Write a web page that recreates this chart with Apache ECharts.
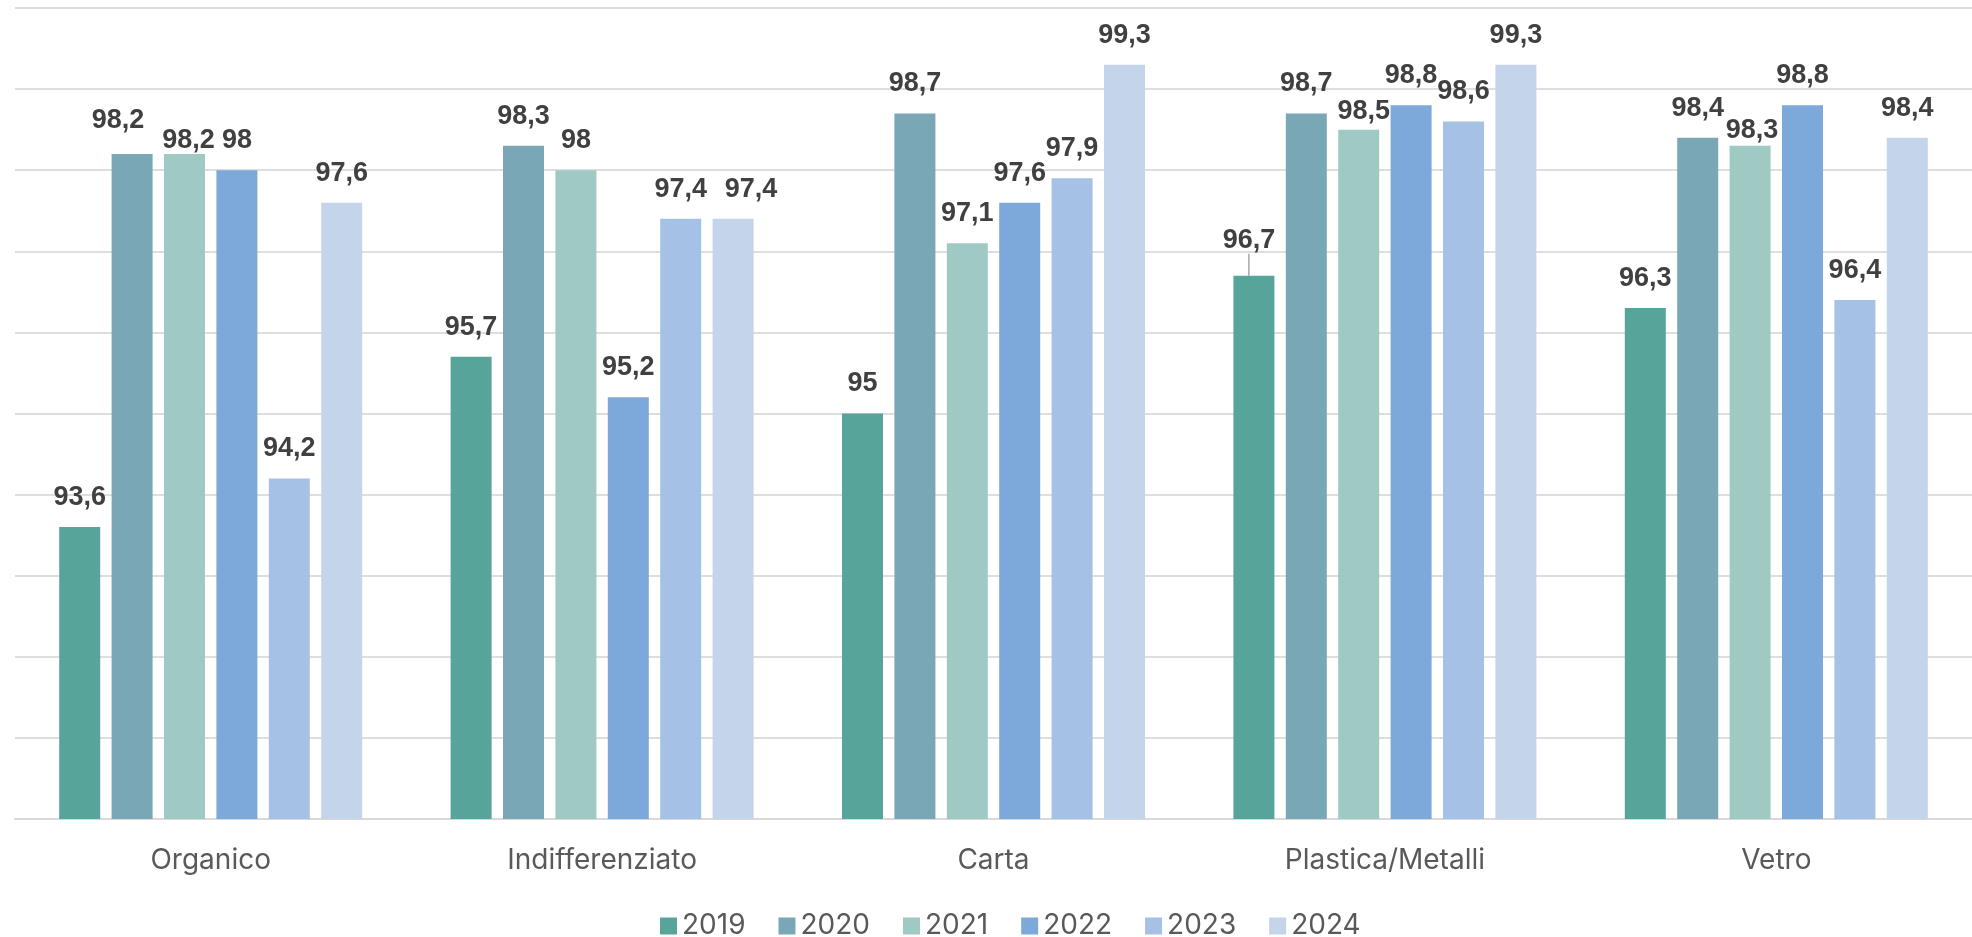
<!DOCTYPE html>
<html>
<head>
<meta charset="utf-8">
<script src="https://cdn.jsdelivr.net/npm/echarts@6/dist/echarts.min.js"></script>
<style>
  html, body { margin: 0; padding: 0; background: #fff; }
  #chart { width: 1972px; height: 937px; }
</style>
</head>
<body>
<div id="chart"></div>
<script>
// Waste categories and yearly percentages
const categories = ['Organico', 'Indifferenziato', 'Carta', 'Plastica/Metalli', 'Vetro'];
const years = ['2019', '2020', '2021', '2022', '2023', '2024'];

const v2019 = [93.6, 95.7, 95.0, 96.7, 96.3];
const v2020 = [98.2, 98.3, 98.7, 98.7, 98.4];
const v2021 = [98.2, 98.0, 97.1, 98.5, 98.3];
const v2022 = [98.0, 95.2, 97.6, 98.8, 98.8];
const v2023 = [94.2, 97.4, 97.9, 98.6, 96.4];
const v2024 = [97.6, 97.4, 99.3, 99.3, 98.4];

const seriesValues = [v2019, v2020, v2021, v2022, v2023, v2024];
const colors = ['#56A49A', '#79A7B5', '#9ECAC3', '#7CA9D9', '#A5C1E5', '#C4D5EB'];

// Labels nudged apart where neighbouring values collide: key = "series-index"
const labelNudge = {
  '1-0': { dx: -14, dy: -4 },
  '2-0': { dx: 4, dy: 16 },
  '5-1': { dx: 18, dy: 0 },
  '2-3': { dx: 5, dy: 11 },
  '0-3': { dx: -5, dy: -6, line: true },
  '2-4': { dx: 2, dy: 14 }
};

const fmt = v => String(v).replace('.', ',');

const series = seriesValues.map((vals, si) => ({
  name: years[si],
  type: 'bar',
  barWidth: 41,
  barGap: '27.8%',
  itemStyle: { color: colors[si] },
  label: {
    show: true,
    position: 'top',
    distance: 16,
    color: '#404040',
    fontFamily: '"Liberation Sans", Arial, sans-serif',
    fontWeight: 'bold',
    fontSize: 27,
    formatter: p => fmt(p.value)
  },
  labelLine: { show: false, lineStyle: { color: '#A6A6A6', width: 1.5 } },
  data: vals.map((v, di) => {
    const n = labelNudge[si + '-' + di];
    if (n && n.line) return { value: v, labelLine: { show: true, length2: 0, smooth: false } };
    return v;
  })
}));

const chart = echarts.init(document.getElementById('chart'), null, { renderer: 'canvas' });
chart.setOption({
  animation: false,
  backgroundColor: '#ffffff',
  color: colors,
  grid: { left: 15, top: 8, width: 1969, bottom: 118, containLabel: false },
  legend: {
    left: 655,
    top: 907,
    itemWidth: 17,
    itemHeight: 17,
    itemGap: 33,
    icon: 'rect',
    textStyle: { color: '#595959', fontSize: 28, fontFamily: 'Inter, "Liberation Sans", sans-serif' },
    data: years
  },
  xAxis: {
    type: 'category',
    data: categories,
    axisLine: { show: true, lineStyle: { color: '#D9D9D9', width: 2 } },
    axisTick: { show: false },
    axisLabel: {
      color: '#595959',
      fontSize: 28,
      fontFamily: 'Inter, "Liberation Sans", sans-serif',
      margin: 28
    }
  },
  yAxis: {
    type: 'value',
    min: 90,
    max: 100,
    interval: 1,
    axisLabel: { show: false },
    axisLine: { show: false },
    axisTick: { show: false },
    splitLine: { show: true, lineStyle: { color: '#DEDEDE', width: 2 } }
  },
  labelLayout: function (params) {
    const n = labelNudge[params.seriesIndex + '-' + params.dataIndex];
    if (n) return { dx: n.dx, dy: n.dy };
    return {};
  },
  series: series
});
</script>
</body>
</html>
